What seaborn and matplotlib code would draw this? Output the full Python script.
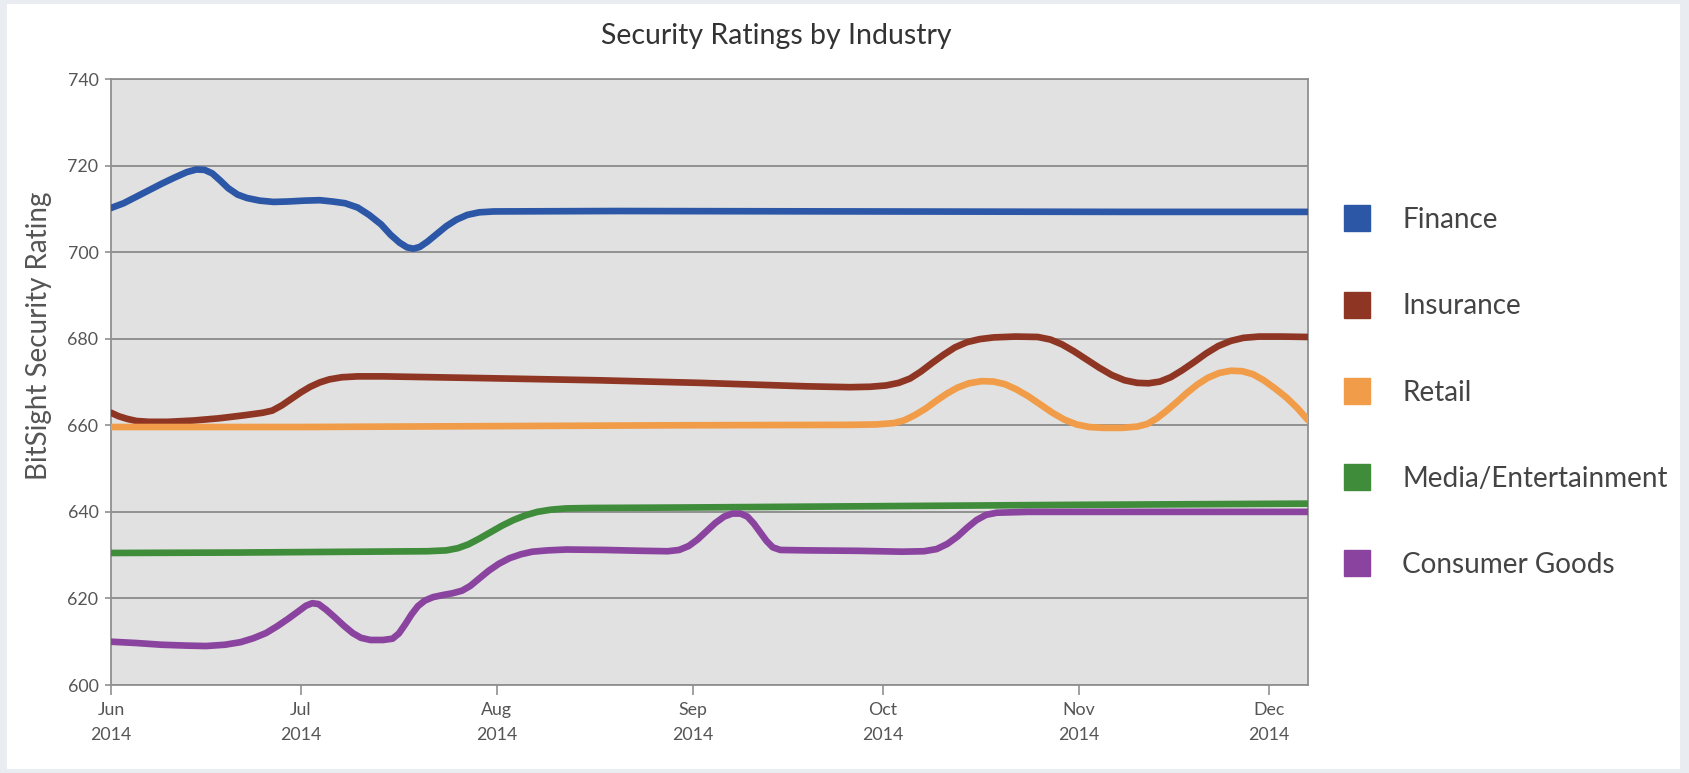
import numpy as np
import pandas as pd
import matplotlib
matplotlib.use("Agg")
import matplotlib.pyplot as plt
from matplotlib.lines import Line2D
from matplotlib.patches import Rectangle
import seaborn as sns

# ---- data: day offsets from 1 June 2014 and rating values ----
start_date = pd.Timestamp("2014-06-01")

industries = ["Finance", "Insurance", "Retail", "Media/Entertainment", "Consumer Goods"]
colors = ["#2c57a7", "#8f3523", "#f09c48", "#3f8c3a", "#8a449f"]

finance_days = [0, 2, 4, 6, 8, 10, 12, 13.5, 14.8, 16, 17.3, 18.5, 20, 21.5, 23.5,
                25.7, 28, 30.6, 33, 35, 37, 39, 40.8, 42.7, 44.2, 45.6, 46.8, 47.8,
                48.8, 50, 51.5, 53, 54.6, 56.3, 58.2, 60.5, 80, 120, 160, 189.2]
finance_vals = [710.2, 711.3, 712.8, 714.3, 715.8, 717.2, 718.5, 719.1, 719.0, 718.2,
                716.5, 714.8, 713.3, 712.5, 711.9, 711.6, 711.7, 711.9, 712.0, 711.7,
                711.3, 710.3, 708.6, 706.4, 704.0, 702.2, 701.1, 700.8, 701.2, 702.4,
                704.2, 706.0, 707.5, 708.6, 709.2, 709.4, 709.5, 709.4, 709.3, 709.3]

insurance_days = [0, 1.2, 2.5, 4, 6, 9, 13, 17, 21, 24, 25.5, 27, 28.5, 30, 31.5, 33,
                  34.5, 36.5, 39, 43, 58.7, 76.9, 93.1, 110, 116.8, 120, 122.5, 124.5,
                  126.3, 128, 129.8, 131.6, 133.4, 135.3, 137.3, 139.5, 143, 146.5,
                  148.5, 150.3, 152.2, 154.2, 156.2, 158.2, 160.2, 162.2, 164, 165.8,
                  167.5, 169.3, 171.2, 173.1, 175, 177, 179, 181.5, 185, 189.2]
insurance_vals = [662.9, 662.1, 661.5, 661.0, 660.8, 660.8, 661.1, 661.6, 662.3, 662.9,
                  663.4, 664.6, 666.1, 667.6, 668.9, 669.9, 670.6, 671.1, 671.3, 671.3,
                  670.9, 670.4, 669.8, 669.0, 668.8, 668.9, 669.2, 669.8, 670.8, 672.4,
                  674.4, 676.3, 678.0, 679.2, 679.9, 680.3, 680.5, 680.4, 679.8, 678.7,
                  677.1, 675.2, 673.3, 671.6, 670.4, 669.8, 669.7, 670.1, 671.1, 672.7,
                  674.6, 676.6, 678.3, 679.5, 680.2, 680.5, 680.5, 680.4]

retail_days = [0, 30, 60, 90, 116.8, 121, 123.7, 125.3, 127, 128.7, 130.4, 132.1,
               133.8, 135.6, 137.6, 139.5, 141.3, 143.1, 145, 146.9, 148.8, 150.7,
               152.6, 154.6, 157, 159.8, 162.2, 163.8, 165.3, 166.8, 168.4, 170,
               171.7, 173.4, 175.2, 177, 178.8, 180.5, 182.2, 184, 185.8, 187.5, 189.2]
retail_vals = [659.6, 659.6, 659.8, 660.0, 660.1, 660.2, 660.5, 661.1, 662.3, 663.8,
               665.6, 667.3, 668.7, 669.7, 670.2, 670.1, 669.5, 668.3, 666.7, 664.8,
               662.9, 661.3, 660.2, 659.6, 659.4, 659.4, 659.7, 660.3, 661.6, 663.3,
               665.3, 667.4, 669.4, 671.0, 672.1, 672.6, 672.5, 671.8, 670.4, 668.5,
               666.4, 664.0, 661.2]

media_days = [0, 20, 40, 50, 53, 54.8, 56.5, 58.2, 60, 61.8, 63.6, 65.5, 67.4, 69.5,
              72, 76, 90, 120, 150, 189.2]
media_vals = [630.5, 630.6, 630.8, 630.9, 631.1, 631.6, 632.5, 633.8, 635.3, 636.8,
              638.1, 639.2, 640.0, 640.5, 640.8, 640.9, 641.0, 641.3, 641.6, 641.9]

consumer_days = [0, 4, 8, 12, 15, 18, 20.5, 22.5, 24.5, 26.3, 28, 29.6, 30.8, 31.8,
                 32.8, 34, 35.4, 36.8, 38.2, 39.5, 41, 43, 44.5, 45.5, 46.5, 47.5,
                 48.5, 49.6, 50.9, 52.5, 54, 55.5, 56.8, 58.2, 59.7, 61.3, 63, 64.8,
                 66.6, 69, 72, 78, 84, 88, 89.8, 91.3, 92.7, 94.1, 95.5, 96.9, 98.2,
                 99.5, 100.6, 101.6, 102.6, 103.6, 104.6, 105.8, 110, 118, 125, 128.5,
                 130.5, 132.2, 133.8, 135.3, 136.8, 138.3, 140, 145, 160, 189.2]
consumer_vals = [610.0, 609.7, 609.3, 609.1, 609.0, 609.3, 609.9, 610.8, 612.0, 613.6,
                 615.3, 617.0, 618.3, 618.9, 618.7, 617.4, 615.6, 613.7, 612.0, 610.9,
                 610.4, 610.4, 610.7, 611.9, 614.0, 616.3, 618.2, 619.5, 620.3, 620.8,
                 621.2, 621.8, 622.9, 624.6, 626.4, 628.0, 629.3, 630.2, 630.8, 631.1,
                 631.3, 631.2, 631.0, 630.9, 631.2, 632.1, 633.6, 635.5, 637.4, 638.9,
                 639.6, 639.6, 638.9, 637.3, 635.3, 633.3, 631.8, 631.2, 631.1, 631.0,
                 630.8, 630.9, 631.4, 632.6, 634.3, 636.3, 638.1, 639.3, 639.8, 640.0,
                 640.0, 640.0]

y_ticks = [600, 620, 640, 660, 680, 700, 720, 740]
month_ticks = ["2014-06-01", "2014-07-01", "2014-08-01", "2014-09-01",
               "2014-10-01", "2014-11-01", "2014-12-01"]
month_labels = ["Jun\n2014", "Jul\n2014", "Aug\n2014", "Sep\n2014",
                "Oct\n2014", "Nov\n2014", "Dec\n2014"]

series = {
    "Finance": (finance_days, finance_vals),
    "Insurance": (insurance_days, insurance_vals),
    "Retail": (retail_days, retail_vals),
    "Media/Entertainment": (media_days, media_vals),
    "Consumer Goods": (consumer_days, consumer_vals),
}

frames = []
for name, (days, vals) in series.items():
    frames.append(pd.DataFrame({
        "date": start_date + pd.to_timedelta(np.asarray(days), unit="D"),
        "rating": vals,
        "industry": name,
    }))
df = pd.concat(frames, ignore_index=True)

# ---- style ----
sns.set_style("white")
plt.rcParams["font.family"] = ["Lato", "DejaVu Sans"]

W, H = 1690, 773
fig = plt.figure(figsize=(W / 100, H / 100), dpi=100)
fig.patch.set_facecolor("#e9ecf1")
fig.add_artist(Rectangle((7 / W, 1 - 769 / H), (1680 - 7) / W, (769 - 4) / H,
                         transform=fig.transFigure, facecolor="white",
                         edgecolor="none", zorder=0))

ax = fig.add_axes([111 / W, 1 - 685 / H, (1308 - 111) / W, (685 - 79) / H])
ax.set_facecolor("#e1e1e1")

palette = dict(zip(industries, colors))
sns.lineplot(data=df, x="date", y="rating", hue="industry", hue_order=industries,
             palette=palette, linewidth=4.8, ax=ax, legend=False,
             solid_capstyle="round", solid_joinstyle="round", zorder=3)

ax.set_ylim(600, 740)
ax.set_xlim(start_date, start_date + pd.Timedelta(days=189.2))
ax.set_yticks(y_ticks)
ax.set_yticklabels([str(v) for v in y_ticks])
ax.set_xticks(pd.to_datetime(month_ticks))
ax.set_xticklabels(month_labels)
ax.set_xlabel("")
ax.set_ylabel("")

ax.yaxis.grid(True, color="#8a8a8a", linewidth=1.3, zorder=1)
ax.xaxis.grid(False)
for s in ax.spines.values():
    s.set_color("#909090")
    s.set_linewidth(1.3)

ax.tick_params(axis="y", length=4, width=1.2, color="#909090", pad=5,
               labelsize=12.8, labelcolor="#555555", left=True)
ax.tick_params(axis="x", length=7, width=1.2, color="#909090", pad=5,
               labelsize=12.8, labelcolor="#555555", bottom=True)
for lbl in ax.get_xticklabels():
    lbl.set_linespacing(1.75)

fig.text(776 / W, 1 - 36 / H, "Security Ratings by Industry", ha="center",
         va="center", fontsize=20.5, color="#333333")
fig.text(39 / W, 1 - 336 / H, "BitSight Security Rating", ha="center",
         va="center", rotation=90, fontsize=20, color="#555555")

handles = [Line2D([], [], linestyle="none", marker="s", markersize=19,
                  markerfacecolor=c, markeredgecolor=c) for c in colors]
fig.legend(handles, industries, loc="upper left",
           bbox_to_anchor=(1342.7 / W, 1 - 207 / H), frameon=False,
           fontsize=20.1, labelcolor="#444444", handlelength=1.0,
           handletextpad=1.13, labelspacing=2.16, borderpad=0, borderaxespad=0)

fig.savefig("out.png", dpi=100)
